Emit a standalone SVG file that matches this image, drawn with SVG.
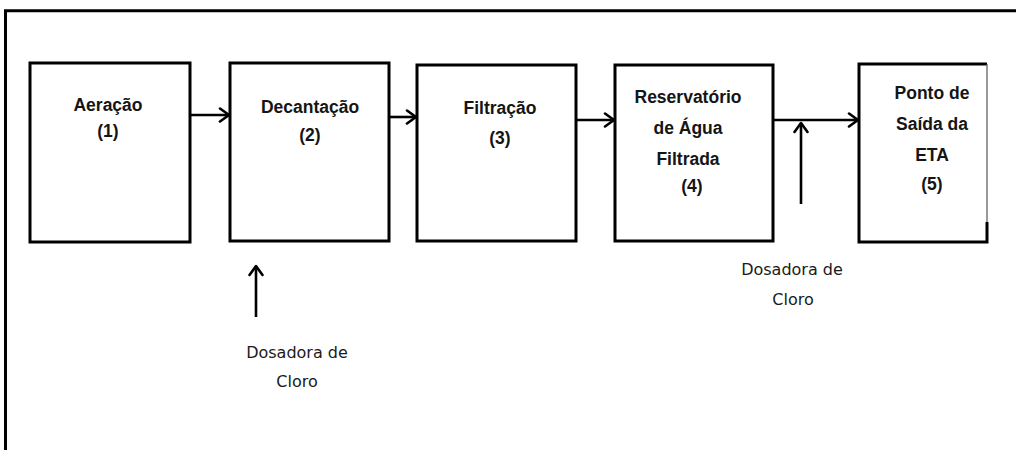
<svg xmlns="http://www.w3.org/2000/svg" width="1016" height="450" viewBox="0 0 1016 450">
<defs>
<marker id="ah" markerUnits="userSpaceOnUse" markerWidth="14" markerHeight="16" viewBox="0 0 14 16" refX="12" refY="8" orient="auto">
<path d="M3,1.5 L12,8 L3,14.5" fill="none" stroke="#000" stroke-width="2.6" stroke-linecap="round" stroke-linejoin="round"/>
</marker>
</defs>
<style>
.box{fill:#fff;stroke:#000;stroke-width:3}
.lbl{font-family:"Liberation Sans",Arial,sans-serif;font-weight:bold;font-size:17.5px;fill:#151515;text-anchor:middle}
.note{font-family:"DejaVu Sans",Verdana,sans-serif;font-size:16px;fill:#1a1a1a;text-anchor:middle}
.conn{fill:none;stroke:#000;stroke-width:2.6;marker-end:url(#ah)}
</style>
<rect width="1016" height="450" fill="#fff"/>
<path d="M5.5,450 L5.5,10.7 L1016,10.7" fill="none" stroke="#000" stroke-width="3"/>
<g id="n1">
<rect class="box" x="30" y="63" width="160" height="179"/>
<text class="lbl" x="108" y="111">Aeração</text>
<text class="lbl" x="108" y="137">(1)</text>
</g>
<g id="n2">
<rect class="box" x="230" y="63" width="159" height="178"/>
<text class="lbl" x="310" y="113">Decantação</text>
<text class="lbl" x="310" y="141">(2)</text>
</g>
<g id="n3">
<rect class="box" x="417" y="65" width="159" height="176"/>
<text class="lbl" x="500" y="114">Filtração</text>
<text class="lbl" x="500" y="144">(3)</text>
</g>
<g id="n4">
<rect class="box" x="615" y="65" width="158" height="176"/>
<text class="lbl" x="688" y="103">Reservatório</text>
<text class="lbl" x="688" y="134">de Água</text>
<text class="lbl" x="688" y="165">Filtrada</text>
<text class="lbl" x="692" y="192">(4)</text>
</g>
<g id="n5">
<path d="M987,64 L859,64 L859,242 L987,242 L987,222" fill="#fff" stroke="#000" stroke-width="3"/>
<path d="M987,64 L987,222" fill="none" stroke="#555" stroke-width="1.2"/>
<text class="lbl" x="932" y="99">Ponto de</text>
<text class="lbl" x="932" y="130">Saída da</text>
<text class="lbl" x="932" y="161">ETA</text>
<text class="lbl" x="932" y="190">(5)</text>
</g>
<g id="d1">
<text class="note" x="297" y="358">Dosadora de</text>
<text class="note" x="297" y="387">Cloro</text>
</g>
<g id="d2">
<text class="note" x="792" y="275">Dosadora de</text>
<text class="note" x="793" y="305">Cloro</text>
</g>
<g id="connectors">
<line class="conn" x1="190" y1="115" x2="229" y2="115"/>
<line class="conn" x1="389" y1="117" x2="416" y2="117"/>
<line class="conn" x1="576" y1="120" x2="614" y2="120"/>
<line class="conn" x1="773" y1="120" x2="858" y2="120"/>
<line class="conn" x1="801" y1="204" x2="801" y2="123"/>
<line class="conn" x1="256" y1="317" x2="256" y2="266"/>
</g>
</svg>
